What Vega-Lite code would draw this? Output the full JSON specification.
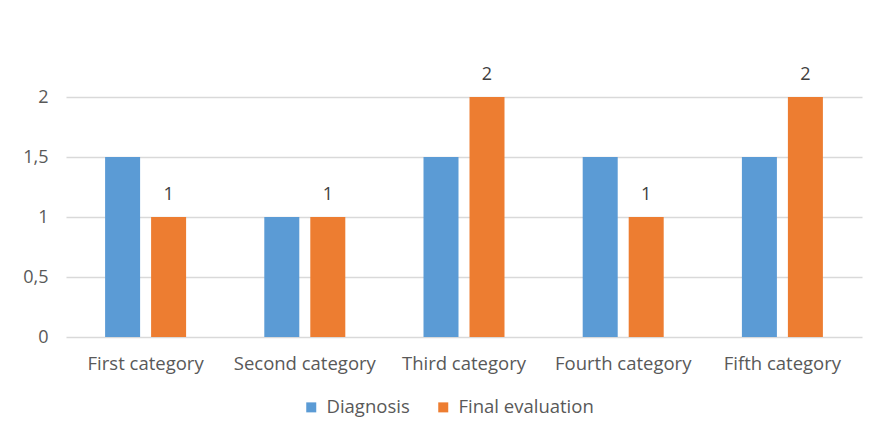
{
  "$schema": "https://vega.github.io/schema/vega-lite/v6.json",
  "autosize": {"type": "none"},
  "padding": {"left": 66, "top": 97, "right": 10, "bottom": 101},
  "width": 796,
  "height": 240,
  "background": "white",
  "config": {
    "view": {"stroke": null},
    "font": "Open Sans"
  },
  "data": {
    "values": [
      {"category": "First category", "series": "Diagnosis", "value": 1.5},
      {"category": "First category", "series": "Final evaluation", "value": 1},
      {"category": "Second category", "series": "Diagnosis", "value": 1},
      {"category": "Second category", "series": "Final evaluation", "value": 1},
      {"category": "Third category", "series": "Diagnosis", "value": 1.5},
      {"category": "Third category", "series": "Final evaluation", "value": 2},
      {"category": "Fourth category", "series": "Diagnosis", "value": 1.5},
      {"category": "Fourth category", "series": "Final evaluation", "value": 1},
      {"category": "Fifth category", "series": "Diagnosis", "value": 1.5},
      {"category": "Fifth category", "series": "Final evaluation", "value": 2}
    ]
  },
  "encoding": {
    "x": {
      "field": "category", "type": "nominal", "sort": null,
      "scale": {"paddingInner": 0, "paddingOuter": 0},
      "axis": {
        "title": null, "labelAngle": 0, "ticks": false, "domain": false,
        "labelFont": "Open Sans", "labelFontSize": 18.5, "labelColor": "#595959",
        "labelPadding": 17, "labelBaseline": "top"
      }
    },
    "xOffset": {
      "field": "series", "type": "nominal",
      "scale": {"paddingInner": 0.239, "paddingOuter": 0.85}
    },
    "y": {
      "field": "value", "type": "quantitative",
      "scale": {"domain": [0, 2], "nice": false},
      "axis": {
        "title": null, "values": [0, 0.5, 1, 1.5, 2], "ticks": false, "domain": false,
        "format": "~g",
        "labelExpr": "replace(datum.label, '.', ',')",
        "labelFont": "Open Sans", "labelFontSize": 18, "labelColor": "#595959",
        "labelPadding": 18, "gridColor": "#d9d9d9", "gridWidth": 1.5
      }
    }
  },
  "layer": [
    {
      "mark": {"type": "bar"},
      "encoding": {
        "color": {
          "field": "series", "type": "nominal",
          "scale": {"domain": ["Diagnosis", "Final evaluation"], "range": ["#5B9BD5", "#ED7D31"]},
          "legend": {
            "title": null, "orient": "none", "direction": "horizontal",
            "legendX": 236, "legendY": 301,
            "symbolType": "square", "symbolSize": 100, "symbolStrokeWidth": 0,
            "labelFont": "Open Sans", "labelFontSize": 18.5, "labelColor": "#595959",
            "columnPadding": 24, "labelOffset": 6
          }
        }
      }
    },
    {
      "transform": [{"filter": "datum.series == 'Final evaluation'"}],
      "mark": {"type": "text", "baseline": "alphabetic", "dy": -17, "font": "Open Sans", "fontSize": 18, "color": "#404040"},
      "encoding": {
        "text": {"field": "value", "type": "quantitative"}
      }
    }
  ]
}
